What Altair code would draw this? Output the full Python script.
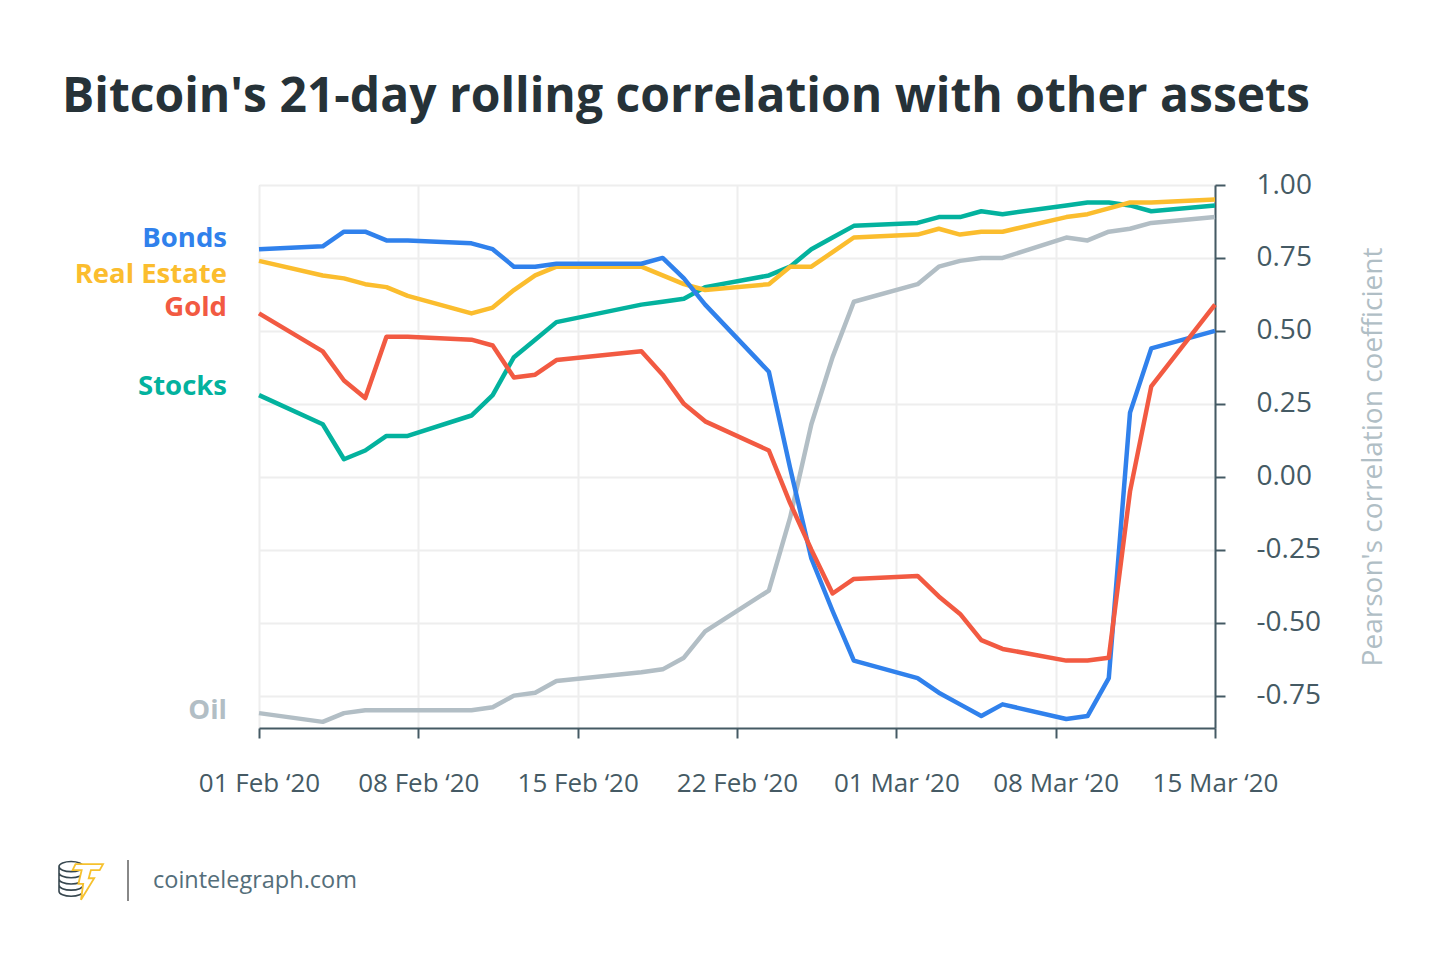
import json
from datetime import datetime, timezone

import altair as alt
import pandas as pd

# ---------------- data ----------------
DATES = [
    "2020-01-31", "2020-02-03", "2020-02-04", "2020-02-05", "2020-02-06", "2020-02-07",
    "2020-02-10", "2020-02-11", "2020-02-12", "2020-02-13", "2020-02-14",
    "2020-02-18", "2020-02-19", "2020-02-20", "2020-02-21",
    "2020-02-24", "2020-02-25", "2020-02-26", "2020-02-27", "2020-02-28",
    "2020-03-02", "2020-03-03", "2020-03-04", "2020-03-05", "2020-03-06",
    "2020-03-09", "2020-03-10", "2020-03-11", "2020-03-12", "2020-03-13",
    "2020-03-16",
]

BONDS = [0.78, 0.79, 0.84, 0.84, 0.81, 0.81, 0.80, 0.78, 0.72, 0.72, 0.73,
         0.73, 0.75, 0.68, 0.59, 0.36, 0.03, -0.28, -0.46, -0.63,
         -0.69, -0.74, -0.78, -0.82, -0.78, -0.83, -0.82, -0.69, 0.22, 0.44, 0.50]
REAL_ESTATE = [0.74, 0.69, 0.68, 0.66, 0.65, 0.62, 0.56, 0.58, 0.64, 0.69, 0.72,
               0.72, 0.69, 0.66, 0.64, 0.66, 0.72, 0.72, 0.77, 0.82,
               0.83, 0.85, 0.83, 0.84, 0.84, 0.89, 0.90, 0.92, 0.94, 0.94, 0.95]
GOLD = [0.56, 0.43, 0.33, 0.27, 0.48, 0.48, 0.47, 0.45, 0.34, 0.35, 0.40,
        0.43, 0.35, 0.25, 0.19, 0.09, -0.09, -0.25, -0.40, -0.35,
        -0.34, -0.41, -0.47, -0.56, -0.59, -0.63, -0.63, -0.62, -0.05, 0.31, 0.59]
STOCKS = [0.28, 0.18, 0.06, 0.09, 0.14, 0.14, 0.21, 0.28, 0.41, 0.47, 0.53,
          0.59, 0.60, 0.61, 0.65, 0.69, 0.72, 0.78, 0.82, 0.86,
          0.87, 0.89, 0.89, 0.91, 0.90, 0.93, 0.94, 0.94, 0.93, 0.91, 0.93]
OIL = [-0.81, -0.84, -0.81, -0.80, -0.80, -0.80, -0.80, -0.79, -0.75, -0.74, -0.70,
       -0.67, -0.66, -0.62, -0.53, -0.39, -0.14, 0.18, 0.41, 0.60,
       0.66, 0.72, 0.74, 0.75, 0.75, 0.82, 0.81, 0.84, 0.85, 0.87, 0.89]

SERIES = ["Oil", "Stocks", "Real Estate", "Bonds", "Gold"]
TICK_LABELS = ["01 Feb \u201820", "08 Feb \u201820", "15 Feb \u201820", "22 Feb \u201820",
               "01 Mar \u201820", "08 Mar \u201820", "15 Mar \u201820"]
Y_TICKS = [1.0, 0.75, 0.5, 0.25, 0.0, -0.25, -0.5, -0.75]

TITLE = "Bitcoin's 21-day rolling correlation with other assets"
Y_TITLE = "Pearson's correlation coefficient"
SOURCE = "cointelegraph.com"

# ---------------- styles ----------------
COLORS = {
    "Bonds": "#3081ec",
    "Real Estate": "#fbbd2e",
    "Gold": "#f25a42",
    "Stocks": "#03b29e",
    "Oil": "#b2bec5",
}
LABEL_DY = {"Bonds": -2, "Real Estate": 22, "Gold": 3, "Stocks": 0, "Oil": 6}
LABEL_SIZE = 27.5
FONT = "Open Sans"
DARK = "#455a64"

values = {"Bonds": BONDS, "Real Estate": REAL_ESTATE, "Gold": GOLD,
          "Stocks": STOCKS, "Oil": OIL}

rows = []
for s in SERIES:
    for d, v in zip(DATES, values[s]):
        rows.append({"date": d + "T00:00:00Z", "series": s, "value": v})
df = pd.DataFrame(rows)


def ms(y, m, d, h=0):
    return int(datetime(y, m, d, h, tzinfo=timezone.utc).timestamp() * 1000)


t0 = ms(2020, 1, 31)
t1 = ms(2020, 3, 16)
step = (t1 - t0) / (len(TICK_LABELS) - 1)
tick_vals = [int(t0 + i * step) for i in range(len(TICK_LABELS))]
x_label_expr = (json.dumps(TICK_LABELS, ensure_ascii=False)
                + f"[round((time(datum.value) - {t0}) / {step})]")

X_ENC = alt.X(
    "date:T",
    title=None,
    scale=alt.Scale(type="utc", domain=[t0, t1], nice=False),
    axis=alt.Axis(
        values=tick_vals, labelExpr=x_label_expr, labelFont=FONT, labelFontSize=26,
        labelColor=DARK, labelPadding=32, tickSize=10, tickWidth=2, tickColor=DARK,
        domainColor=DARK, domainWidth=2, gridColor="#eeeeee", gridWidth=2,
        labelOverlap=False, labelFlush=False,
    ),
)
Y_ENC = alt.Y(
    "value:Q",
    title=None,
    scale=alt.Scale(domain=[-0.861, 1.0], nice=False, zero=False),
    axis=alt.Axis(
        orient="right", values=Y_TICKS,
        labelExpr="replace(format(datum.value, '.2f'), '\u2212', '-')",
        labelFont=FONT, labelFontSize=28, labelColor=DARK, labelPadding=31,
        tickSize=10, tickWidth=2, tickColor=DARK, domainColor=DARK, domainWidth=2,
        gridColor="#eeeeee", gridWidth=2, labelOverlap=False, labelFlush=False,
    ),
)

lines = alt.Chart(df).mark_line(strokeWidth=4.5, strokeJoin="round").encode(
    x=X_ENC,
    y=Y_ENC,
    color=alt.Color("series:N", scale=alt.Scale(domain=SERIES,
                                                range=[COLORS[s] for s in SERIES]),
                    legend=None),
)

layers = [lines]

# series labels at the left, next to the start of each line
for s in SERIES:
    ldf = pd.DataFrame({"series": [s], "value": [values[s][0]]})
    layers.append(
        alt.Chart(ldf).mark_text(
            align="right", baseline="alphabetic", dy=LABEL_DY[s], font=FONT,
            fontSize=LABEL_SIZE, fontWeight="bold", color=COLORS[s],
        ).encode(x=alt.value(-32), y=Y_ENC, text="series:N")
    )

one = pd.DataFrame({"t": [0]})

title = alt.Chart(one).mark_text(
    text=TITLE, align="left", baseline="alphabetic", font=FONT, fontSize=48,
    fontWeight="bold", color="#263238",
).encode(x=alt.value(-197), y=alt.value(-73))

ytitle = alt.Chart(one).mark_text(
    text=Y_TITLE, align="center", baseline="middle", angle=270, font=FONT,
    fontSize=28, color="#b0bec5",
).encode(x=alt.value(1115), y=alt.value(272))

source = alt.Chart(one).mark_text(
    text=SOURCE, align="left", baseline="alphabetic", font=FONT, fontSize=23.5,
    color="#546e7a",
).encode(x=alt.value(-106), y=alt.value(703))

sep = alt.Chart(one).mark_rule(color="#888888", strokeWidth=2).encode(
    x=alt.value(-131), y=alt.value(675), y2=alt.value(716)
)

COINS = ("M-1.0,-0.61 A0.55,0.23 0 1,1 0.1,-0.61 A0.55,0.23 0 1,1 -1.0,-0.61 Z "
         "M-1.0,-0.61 L-1.0,0.51 M0.1,-0.61 L0.1,0.51 "
         "M-1.0,-0.33 A0.55,0.23 0 0,0 0.1,-0.33 "
         "M-1.0,-0.05 A0.55,0.23 0 0,0 0.1,-0.05 "
         "M-1.0,0.23 A0.55,0.23 0 0,0 0.1,0.23 "
         "M-1.0,0.51 A0.55,0.23 0 0,0 0.1,0.51")
BOLT = ("M-0.25,-0.72 L1.0,-0.72 L0.85,-0.45 L0.45,-0.45 L0.35,-0.08 L0.6,-0.08 "
        "L0.0,0.9 L0.1,0.18 L-0.12,0.18 L0.03,-0.45 L-0.38,-0.45 Z")

coins = alt.Chart(one).mark_point(
    shape=COINS, size=1936, filled=False, stroke="#37474f", strokeWidth=1.6, opacity=1
).encode(x=alt.value(-178), y=alt.value(695))
bolt = alt.Chart(one).mark_point(
    shape=BOLT, size=1936, filled=True, fill="#ffffff", stroke="#f6c12e",
    strokeWidth=1.8, opacity=1
).encode(x=alt.value(-178), y=alt.value(695))

layers += [title, ytitle, source, sep, coins, bolt]

chart = alt.layer(*layers).properties(
    width=956,
    height=543,
    autosize=alt.AutoSizeParams(type="none"),
    padding={"left": 251, "top": 177, "right": 220, "bottom": 215},
).configure_view(stroke=DARK, strokeWidth=2).configure(background="white")

chart.save("out.html", embed_options={"renderer": "svg", "actions": False})
